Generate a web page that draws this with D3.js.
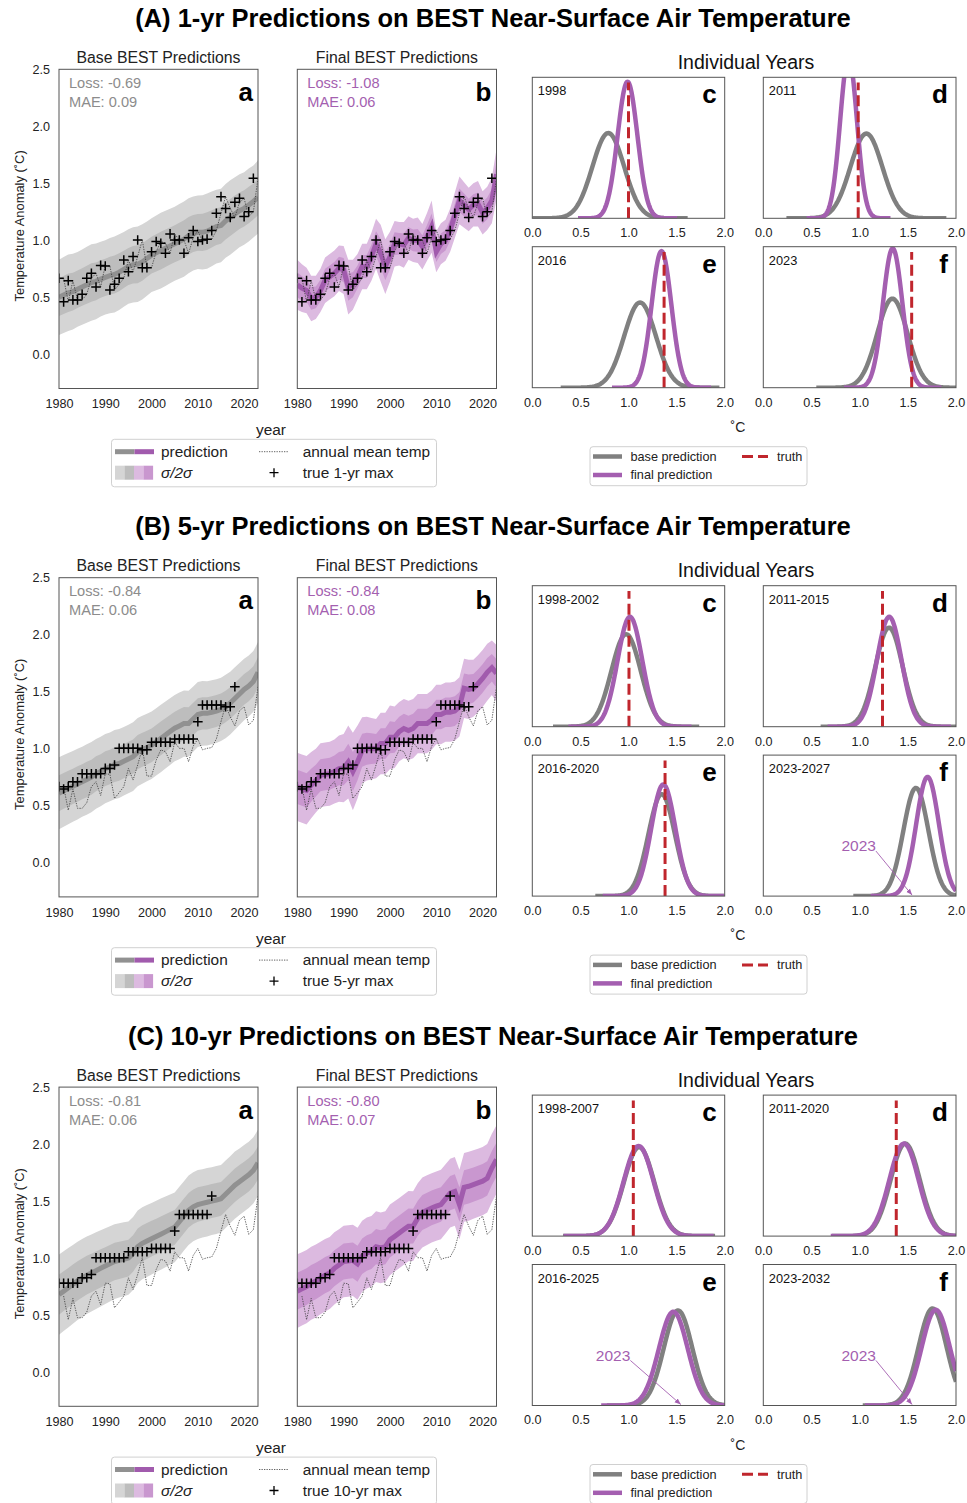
<!DOCTYPE html>
<html>
<head>
<meta charset="utf-8">
<script src="https://cdn.jsdelivr.net/npm/d3@7"></script>
<style>
  body { margin: 0; background: #fff; }
  text { font-family: "Liberation Sans", Arial, Helvetica, sans-serif; }
</style>
</head>
<body>
<div id="chart"></div>
<script>
// --- Data ---
// prediction bands are drawn at these positions
const predYears = d3.range(1980, 2024);
// annual mean temp (dotted line), by year
const obsYears = d3.range(1981, 2024);
const annualMean = [0.667, 0.46, 0.646, 0.477, 0.477, 0.526, 0.667, 0.71, 0.59, 0.78,
  0.775, 0.564, 0.614, 0.667, 0.827, 0.725, 0.857, 1.003, 0.76, 0.76,
  0.90, 0.99, 0.974, 0.886, 1.056, 1.003, 1.003, 0.886, 1.023, 1.085,
  0.99, 1.003, 1.01, 1.085, 1.237, 1.383, 1.28, 1.20, 1.333, 1.368,
  1.208, 1.25, 1.544];

// true n-yr max markers (drawn one year left of the window start, as in the source)
const max1Years = d3.range(1980, 2023);
const max1 = [0.667, 0.46, 0.646, 0.477, 0.477, 0.526, 0.667, 0.71, 0.59, 0.78,
  0.775, 0.564, 0.614, 0.667, 0.827, 0.725, 0.857, 1.003, 0.76, 0.76,
  0.90, 0.99, 0.974, 0.886, 1.056, 1.003, 1.003, 0.886, 1.023, 1.085,
  0.99, 1.003, 1.01, 1.085, 1.237, 1.383, 1.28, 1.20, 1.333, 1.368,
  1.208, 1.25, 1.544];
const max5Years = d3.range(1980, 2019);
const max5 = [0.667, 0.646, 0.667, 0.71, 0.71, 0.78, 0.78, 0.78, 0.78, 0.78,
  0.827, 0.827, 0.857, 1.003, 1.003, 1.003, 1.003, 1.003, 0.99, 0.99,
  1.056, 1.056, 1.056, 1.056, 1.056, 1.085, 1.085, 1.085, 1.085, 1.085,
  1.237, 1.383, 1.383, 1.383, 1.383, 1.383, 1.368, 1.368, 1.544];
const max10Years = d3.range(1980, 2014);
const max10 = [0.78, 0.78, 0.78, 0.78, 0.78, 0.827, 0.827, 0.857, 1.003, 1.003,
  1.003, 1.003, 1.003, 1.003, 1.003, 1.056, 1.056, 1.056, 1.056, 1.056,
  1.085, 1.085, 1.085, 1.085, 1.085, 1.237, 1.383, 1.383, 1.383, 1.383,
  1.383, 1.383, 1.383, 1.544];

// 1-yr predictions
const baseMean1 = [0.50, 0.52, 0.54, 0.55, 0.57, 0.59, 0.61, 0.63, 0.64, 0.66,
  0.675, 0.69, 0.70, 0.72, 0.745, 0.77, 0.785, 0.79, 0.81, 0.84,
  0.87, 0.89, 0.91, 0.93, 0.95, 0.97, 0.99, 1.01, 1.04, 1.06,
  1.07, 1.07, 1.08, 1.10, 1.12, 1.13, 1.17, 1.20, 1.23, 1.26,
  1.28, 1.31, 1.34, 1.38];
const baseSd1 = [0.165, 0.167, 0.168, 0.166, 0.164, 0.165, 0.167, 0.168, 0.166, 0.164,
  0.163, 0.165, 0.167, 0.166, 0.164, 0.163, 0.165, 0.166, 0.165, 0.163,
  0.162, 0.164, 0.166, 0.165, 0.163, 0.162, 0.164, 0.165, 0.164, 0.162,
  0.161, 0.163, 0.165, 0.164, 0.162, 0.161, 0.162, 0.163, 0.162, 0.160,
  0.159, 0.160, 0.158, 0.160];
const finalMean1 = [0.61, 0.58, 0.56, 0.49, 0.50, 0.56, 0.65, 0.68, 0.71, 0.755,
  0.74, 0.59, 0.61, 0.68, 0.77, 0.77, 0.856, 0.97, 0.886, 0.77,
  0.856, 0.97, 0.97, 0.96, 1.02, 1.00, 1.00, 0.944, 1.03, 1.12,
  0.90, 0.97, 1.00, 1.09, 1.22, 1.35, 1.31, 1.27, 1.31, 1.32,
  1.24, 1.28, 1.35, 1.58];
const finalSd1 = [0.11, 0.105, 0.10, 0.10, 0.095, 0.095, 0.10, 0.10, 0.10, 0.10,
  0.105, 0.12, 0.11, 0.10, 0.10, 0.10, 0.105, 0.11, 0.125, 0.12,
  0.11, 0.10, 0.095, 0.10, 0.095, 0.095, 0.10, 0.10, 0.105, 0.115,
  0.09, 0.09, 0.09, 0.095, 0.10, 0.105, 0.10, 0.095, 0.095, 0.10,
  0.095, 0.095, 0.10, 0.11];

// 5-yr predictions
const baseMean5 = [0.61, 0.63, 0.65, 0.67, 0.69, 0.71, 0.73, 0.75, 0.78, 0.80,
  0.825, 0.84, 0.86, 0.87, 0.89, 0.91, 0.93, 0.97, 0.99, 1.01,
  1.03, 1.06, 1.09, 1.12, 1.15, 1.18, 1.20, 1.22, 1.22, 1.26,
  1.30, 1.31, 1.31, 1.32, 1.33, 1.345, 1.37, 1.40, 1.44, 1.48,
  1.52, 1.55, 1.59, 1.67];
const baseSd5 = [0.158, 0.157, 0.156, 0.155, 0.155, 0.154, 0.155, 0.154, 0.153, 0.152,
  0.152, 0.151, 0.152, 0.151, 0.150, 0.150, 0.151, 0.150, 0.149, 0.148,
  0.148, 0.147, 0.148, 0.147, 0.146, 0.145, 0.146, 0.145, 0.144, 0.143,
  0.142, 0.142, 0.141, 0.140, 0.140, 0.139, 0.139, 0.138, 0.137, 0.136,
  0.135, 0.134, 0.133, 0.133];
const finalMean5 = [0.665, 0.65, 0.635, 0.68, 0.72, 0.767, 0.775, 0.78, 0.80, 0.825,
  0.83, 0.884, 0.80, 0.884, 0.986, 1.00, 1.00, 1.00, 1.045, 1.045,
  1.10, 1.10, 1.15, 1.177, 1.16, 1.177, 1.22, 1.22, 1.22, 1.25,
  1.30, 1.30, 1.32, 1.32, 1.33, 1.367, 1.53, 1.52, 1.53, 1.57,
  1.616, 1.67, 1.71, 1.66];
const finalSd5 = [0.15, 0.15, 0.15, 0.145, 0.14, 0.14, 0.14, 0.14, 0.14, 0.145,
  0.15, 0.16, 0.17, 0.16, 0.145, 0.14, 0.135, 0.13, 0.135, 0.135,
  0.14, 0.135, 0.13, 0.13, 0.13, 0.13, 0.13, 0.13, 0.13, 0.13,
  0.13, 0.13, 0.13, 0.13, 0.13, 0.13, 0.13, 0.13, 0.125, 0.125,
  0.125, 0.125, 0.12, 0.125];

// 10-yr predictions
const baseMean10 = [0.68, 0.71, 0.74, 0.77, 0.80, 0.825, 0.85, 0.87, 0.89, 0.91,
  0.93, 0.95, 0.97, 0.98, 0.99, 1.00, 1.04, 1.10, 1.13, 1.15,
  1.17, 1.19, 1.21, 1.23, 1.25, 1.27, 1.32, 1.37, 1.42, 1.45,
  1.47, 1.48, 1.49, 1.50, 1.51, 1.52, 1.56, 1.60, 1.64, 1.67,
  1.70, 1.73, 1.77, 1.835];
const baseSd10 = [0.176, 0.175, 0.174, 0.173, 0.172, 0.171, 0.170, 0.169, 0.168, 0.167,
  0.166, 0.165, 0.164, 0.163, 0.162, 0.161, 0.160, 0.159, 0.158, 0.158,
  0.157, 0.156, 0.156, 0.155, 0.154, 0.153, 0.153, 0.152, 0.152, 0.151,
  0.151, 0.150, 0.150, 0.149, 0.149, 0.148, 0.148, 0.147, 0.147, 0.146,
  0.146, 0.145, 0.145, 0.145];
const finalMean10 = [0.71, 0.73, 0.75, 0.78, 0.80, 0.825, 0.85, 0.87, 0.91, 0.94,
  0.97, 0.975, 0.98, 0.95, 1.016, 1.045, 1.06, 1.10, 1.09, 1.10,
  1.16, 1.19, 1.22, 1.25, 1.28, 1.28, 1.35, 1.40, 1.42, 1.44,
  1.456, 1.47, 1.52, 1.57, 1.585, 1.47, 1.62, 1.63, 1.645, 1.66,
  1.675, 1.70, 1.79, 1.865];
const finalSd10 = [0.162, 0.161, 0.161, 0.160, 0.160, 0.159, 0.159, 0.158, 0.158, 0.157,
  0.157, 0.157, 0.156, 0.158, 0.156, 0.156, 0.155, 0.155, 0.155, 0.155,
  0.155, 0.154, 0.154, 0.154, 0.154, 0.153, 0.153, 0.153, 0.153, 0.152,
  0.152, 0.152, 0.152, 0.151, 0.151, 0.152, 0.151, 0.151, 0.150, 0.150,
  0.150, 0.150, 0.150, 0.150];

// Loss / MAE text for [base, final]
const loss1 = ["-0.69", "-1.08"], mae1 = ["0.09", "0.06"];
const loss5 = ["-0.84", "-0.84"], mae5 = ["0.06", "0.08"];
const loss10 = ["-0.81", "-0.80"], mae10 = ["0.06", "0.07"];

// individual-year densities (panels c, d, e, f)
const densLabels1 = ["1998", "2011", "2016", "2023"];
const densBaseMean1 = [0.79, 1.07, 1.12, 1.34];
const densBaseSd1 = [0.165, 0.166, 0.165, 0.158];
const densFinalMean1 = [0.99, 0.885, 1.343, 1.343];
const densFinalSd1 = [0.103, 0.087, 0.103, 0.101];
const densTruth1 = [1.0, 0.985, 1.37, 1.54];
const densAnnoX1 = [null, null, null, null];

const densLabels5 = ["1998-2002", "2011-2015", "2016-2020", "2023-2027"];
const densBaseMean5 = [0.975, 1.305, 1.345, 1.584];
const densBaseSd5 = [0.152, 0.142, 0.138, 0.13];
const densFinalMean5 = [1.015, 1.307, 1.362, 1.705];
const densFinalSd5 = [0.128, 0.128, 0.126, 0.118];
const densTruth5 = [1.005, 1.237, 1.38, null];
const densAnnoX5 = [null, null, null, 0.99];

const densLabels10 = ["1998-2007", "2011-2020", "2016-2025", "2023-2032"];
const densBaseMean10 = [1.11, 1.473, 1.515, 1.757];
const densBaseSd10 = [0.158, 0.152, 0.148, 0.145];
const densFinalMean10 = [1.105, 1.46, 1.466, 1.79];
const densFinalSd10 = [0.156, 0.152, 0.15, 0.147];
const densTruth10 = [1.05, 1.38, null, null];
const densAnnoX10 = [null, null, 0.84, 0.99];

const sectionTitles = [
  "(A) 1-yr Predictions on BEST Near-Surface Air Temperature",
  "(B) 5-yr Predictions on BEST Near-Surface Air Temperature",
  "(C) 10-yr Predictions on BEST Near-Surface Air Temperature"
];
const crossLabels = ["true 1-yr max", "true 5-yr max", "true 10-yr max"];

// --- Styles ---
const FONT = '"Liberation Sans", Arial, Helvetica, sans-serif';
const GREY = { out: "#d5d5d5", in: "#bdbdbd", line: "#919191", dens: "#808080", text: "#8c8c8c" };
const PURPLE = { out: "#dcbae0", in: "#c997cf", line: "#a15bad", dens: "#a45fb0", text: "#a45fb0" };
const RED = "#c0262d";
const FRAME = "#555";
const TICK_FS = 12.6;

// --- Setup ---
const svg = d3.select("#chart").append("svg")
  .attr("width", 967).attr("height", 1503)
  .style("font-family", FONT);

const sections = [
  { off: 0, title: sectionTitles[0], crossYears: max1Years, crosses: max1, crossLabel: crossLabels[0],
    base: { mean: baseMean1, sd: baseSd1, loss: loss1[0], mae: mae1[0] },
    final: { mean: finalMean1, sd: finalSd1, loss: loss1[1], mae: mae1[1] },
    dens: { labels: densLabels1, bm: densBaseMean1, bs: densBaseSd1, fm: densFinalMean1, fs: densFinalSd1, truth: densTruth1, anno: densAnnoX1 } },
  { off: 508.4, title: sectionTitles[1], crossYears: max5Years, crosses: max5, crossLabel: crossLabels[1],
    base: { mean: baseMean5, sd: baseSd5, loss: loss5[0], mae: mae5[0] },
    final: { mean: finalMean5, sd: finalSd5, loss: loss5[1], mae: mae5[1] },
    dens: { labels: densLabels5, bm: densBaseMean5, bs: densBaseSd5, fm: densFinalMean5, fs: densFinalSd5, truth: densTruth5, anno: densAnnoX5 } },
  { off: 1017.8, title: sectionTitles[2], crossYears: max10Years, crosses: max10, crossLabel: crossLabels[2],
    base: { mean: baseMean10, sd: baseSd10, loss: loss10[0], mae: mae10[0] },
    final: { mean: finalMean10, sd: finalSd10, loss: loss10[1], mae: mae10[1] },
    dens: { labels: densLabels10, bm: densBaseMean10, bs: densBaseSd10, fm: densFinalMean10, fs: densFinalSd10, truth: densTruth10, anno: densAnnoX10 } }
];

let clipId = 0;
function addClip(x, y, w, h) {
  const id = "clip" + (clipId++);
  svg.append("clipPath").attr("id", id).append("rect")
    .attr("x", x).attr("y", y).attr("width", w).attr("height", h);
  return "url(#" + id + ")";
}

// arrowhead marker for the 2023 annotations
svg.append("defs").append("marker")
  .attr("id", "arrow").attr("viewBox", "0 0 10 10").attr("refX", 10).attr("refY", 5)
  .attr("markerWidth", 7).attr("markerHeight", 7).attr("orient", "auto")
  .append("path").attr("d", "M0,1 L10,5 L0,9 Z").attr("fill", PURPLE.text);

// --- Time-series panel (a / b) ---
function drawTimePanel(sec, pred, col, left, right, letter, subtitle, showY) {
  const top = 69.3 + sec.off, bottom = 388.5 + sec.off;
  const x = d3.scaleLinear().domain([1980, 2023]).range([left, right]);
  const y = d3.scaleLinear().domain([-0.3, 2.5]).range([bottom, top]);
  const g = svg.append("g");
  const clip = addClip(left, top, right - left, bottom - top);
  const pg = g.append("g").attr("clip-path", clip);

  const rows = predYears.map((yr, i) => ({ yr, m: pred.mean[i], s: pred.sd[i] }));
  const band = k => d3.area().x(d => x(d.yr)).y0(d => y(d.m - k * d.s)).y1(d => y(d.m + k * d.s));
  pg.append("path").datum(rows).attr("d", band(2)).attr("fill", col.out);
  pg.append("path").datum(rows).attr("d", band(1)).attr("fill", col.in);
  pg.append("path").datum(rows)
    .attr("d", d3.line().x(d => x(d.yr)).y(d => y(d.m)))
    .attr("fill", "none").attr("stroke", col.line).attr("stroke-width", 5);

  // annual mean temp, dotted
  pg.append("path").datum(obsYears.map((yr, i) => [yr, annualMean[i]]))
    .attr("d", d3.line().x(d => x(d[0])).y(d => y(d[1])))
    .attr("fill", "none").attr("stroke", "#3a3a3a").attr("stroke-width", 0.8)
    .attr("stroke-dasharray", "1.3,1.2");

  // true n-yr max markers
  pg.append("g").selectAll("path").data(sec.crossYears.map((yr, i) => [yr, sec.crosses[i]]))
    .join("path")
    .attr("d", d => { const cx = x(d[0]), cy = y(d[1]); return `M${cx - 4.8},${cy}H${cx + 4.8}M${cx},${cy - 4.8}V${cy + 4.8}`; })
    .attr("stroke", "#000").attr("stroke-width", 1.5).attr("fill", "none");

  // axes (no tick marks)
  const xa = g.append("g").attr("transform", `translate(0,${bottom})`)
    .call(d3.axisBottom(x).tickValues([1980, 1990, 2000, 2010, 2020]).tickFormat(d3.format("d")).tickSize(0).tickPadding(11));
  xa.select(".domain").remove();
  xa.selectAll("text").attr("font-size", TICK_FS).attr("fill", "#222").style("font-family", FONT);
  if (showY) {
    const ya = g.append("g").attr("transform", `translate(${left},0)`)
      .call(d3.axisLeft(y).tickValues([0, 0.5, 1, 1.5, 2, 2.5]).tickFormat(d3.format(".1f")).tickSize(0).tickPadding(9));
    ya.select(".domain").remove();
    ya.selectAll("text").attr("font-size", TICK_FS).attr("fill", "#222").style("font-family", FONT);
    g.append("text").attr("transform", `translate(19,${(top + bottom) / 2 - 3}) rotate(-90)`)
      .attr("text-anchor", "middle").attr("dy", "0.35em").attr("font-size", 12.9).attr("fill", "#222")
      .text("Temperature Anomaly (˚C)");
  }

  g.append("rect").attr("x", left).attr("y", top).attr("width", right - left).attr("height", bottom - top)
    .attr("fill", "none").attr("stroke", FRAME).attr("stroke-width", 1);

  g.append("text").attr("x", (left + right) / 2).attr("y", top - 12).attr("dy", "0.35em")
    .attr("text-anchor", "middle").attr("font-size", 15.8).attr("fill", "#222").text(subtitle);
  g.append("text").attr("x", left + 10).attr("y", top + 13.5).attr("dy", "0.35em")
    .attr("font-size", 14.6).attr("fill", col.text).text("Loss: " + pred.loss);
  g.append("text").attr("x", left + 10).attr("y", top + 32.5).attr("dy", "0.35em")
    .attr("font-size", 14.6).attr("fill", col.text).text("MAE: " + pred.mae);
  g.append("text").attr("x", right - 5).attr("y", top + 22.5).attr("dy", "0.35em")
    .attr("text-anchor", "end").attr("font-size", 26).attr("font-weight", "bold").attr("fill", "#000").text(letter);
}

// --- Density panel (c..f) ---
function gauss(v, m, s) { return Math.exp(-0.5 * ((v - m) / s) ** 2) / (s * Math.sqrt(2 * Math.PI)); }

function drawDensPanel(sec, k, left, right, top, bottom, letter) {
  const D = sec.dens;
  const x = d3.scaleLinear().domain([0, 2]).range([left, right]);
  const y = d3.scaleLinear().domain([0, 4]).range([bottom, top]);
  const g = svg.append("g");
  const pg = g.append("g").attr("clip-path", addClip(left, top, right - left, bottom - top));
  const curve = (m, s) => {
    const lo = Math.max(0, m - 5 * s), hi = Math.min(2, m + 5 * s);
    return d3.range(201).map(i => { const v = lo + (hi - lo) * i / 200; return [v, gauss(v, m, s)]; });
  };
  const line = d3.line().x(d => x(d[0])).y(d => y(d[1]));
  pg.append("path").datum(curve(D.bm[k], D.bs[k])).attr("d", line)
    .attr("fill", "none").attr("stroke", GREY.dens).attr("stroke-width", 4.5);
  pg.append("path").datum(curve(D.fm[k], D.fs[k])).attr("d", line)
    .attr("fill", "none").attr("stroke", PURPLE.dens).attr("stroke-width", 4.5);
  if (D.truth[k] != null) {
    pg.append("line").attr("x1", x(D.truth[k])).attr("x2", x(D.truth[k]))
      .attr("y1", y(0)).attr("y2", y(3.85))
      .attr("stroke", RED).attr("stroke-width", 3).attr("stroke-dasharray", "11,5");
  }
  if (D.anno[k] != null) {
    const tx = x(D.anno[k]), ty = y(1.42);
    const t = g.append("text").attr("x", tx).attr("y", ty).attr("dy", "0.35em").attr("text-anchor", "middle")
      .attr("font-size", 15.5).attr("fill", PURPLE.text).text("2023");
    const w = t.node().getComputedTextLength();
    g.append("line").attr("x1", tx + w / 2).attr("y1", ty + 5)
      .attr("x2", x(annualMean[annualMean.length - 1])).attr("y2", y(0) - 1)
      .attr("stroke", PURPLE.text).attr("stroke-width", 0.9).attr("marker-end", "url(#arrow)");
  }
  const xa = g.append("g").attr("transform", `translate(0,${bottom})`)
    .call(d3.axisBottom(x).tickValues([0, 0.5, 1, 1.5, 2]).tickFormat(d3.format(".1f")).tickSize(0).tickPadding(10));
  xa.select(".domain").remove();
  xa.selectAll("text").attr("font-size", TICK_FS).attr("fill", "#222").style("font-family", FONT);
  g.append("rect").attr("x", left).attr("y", top).attr("width", right - left).attr("height", bottom - top)
    .attr("fill", "none").attr("stroke", FRAME).attr("stroke-width", 1);
  g.append("text").attr("x", left + 5.5).attr("y", top + 13.7).attr("dy", "0.35em")
    .attr("font-size", 12.8).attr("fill", "#111").text(D.labels[k]);
  g.append("text").attr("x", right - 8).attr("y", top + 17).attr("dy", "0.35em")
    .attr("text-anchor", "end").attr("font-size", 26).attr("font-weight", "bold").attr("fill", "#000").text(letter);
}

// --- Legends ---
function drawLegendLeft(sec) {
  const o = sec.off;
  const g = svg.append("g");
  g.append("text").attr("x", 271).attr("y", 430 + o).attr("dy", "0.35em").attr("text-anchor", "middle")
    .attr("font-size", 15.4).attr("fill", "#222").text("year");
  g.append("rect").attr("x", 111.5).attr("y", 439.3 + o).attr("width", 325).attr("height", 47.5)
    .attr("rx", 3).attr("fill", "#fff").attr("stroke", "#d0d0d0");
  const r1 = 451.7 + o, r2 = 472.7 + o;
  g.append("line").attr("x1", 115).attr("x2", 134.5).attr("y1", r1).attr("y2", r1).attr("stroke", GREY.line).attr("stroke-width", 5);
  g.append("line").attr("x1", 134.5).attr("x2", 154).attr("y1", r1).attr("y2", r1).attr("stroke", PURPLE.line).attr("stroke-width", 5);
  [GREY.out, GREY.in, PURPLE.out, PURPLE.in].forEach((c, i) => {
    g.append("rect").attr("x", 115 + i * 9.5).attr("y", r2 - 7).attr("width", 9.6).attr("height", 14).attr("fill", c);
  });
  g.append("text").attr("x", 161).attr("y", r1).attr("dy", "0.35em").attr("font-size", 15.4).attr("fill", "#222").text("prediction");
  g.append("text").attr("x", 161).attr("y", r2).attr("dy", "0.35em").attr("font-size", 15.4).attr("fill", "#222")
    .attr("font-style", "italic").text("σ/2σ");
  g.append("line").attr("x1", 259).attr("x2", 289).attr("y1", r1).attr("y2", r1)
    .attr("stroke", "#3a3a3a").attr("stroke-width", 0.8).attr("stroke-dasharray", "1.3,1.2");
  g.append("path").attr("d", `M${274 - 4.5},${r2}H${274 + 4.5}M274,${r2 - 4.5}V${r2 + 4.5}`)
    .attr("stroke", "#000").attr("stroke-width", 1.3);
  g.append("text").attr("x", 302.7).attr("y", r1).attr("dy", "0.35em").attr("font-size", 15.4).attr("fill", "#222").text("annual mean temp");
  g.append("text").attr("x", 302.7).attr("y", r2).attr("dy", "0.35em").attr("font-size", 15.4).attr("fill", "#222").text(sec.crossLabel);
}

function drawLegendRight(sec) {
  const o = sec.off;
  const g = svg.append("g");
  g.append("text").attr("x", 738).attr("y", 427 + o).attr("dy", "0.35em").attr("text-anchor", "middle")
    .attr("font-size", 14).attr("fill", "#222").text("˚C");
  g.append("rect").attr("x", 590).attr("y", 446.7 + o).attr("width", 217).attr("height", 39)
    .attr("rx", 3).attr("fill", "#fff").attr("stroke", "#d0d0d0");
  const r1 = 456.5 + o, r2 = 475 + o;
  g.append("line").attr("x1", 593).attr("x2", 622).attr("y1", r1).attr("y2", r1).attr("stroke", GREY.dens).attr("stroke-width", 4.5);
  g.append("line").attr("x1", 593).attr("x2", 622).attr("y1", r2).attr("y2", r2).attr("stroke", PURPLE.dens).attr("stroke-width", 4.5);
  g.append("line").attr("x1", 742).attr("x2", 768).attr("y1", r1).attr("y2", r1)
    .attr("stroke", RED).attr("stroke-width", 3).attr("stroke-dasharray", "11,5");
  g.append("text").attr("x", 630.5).attr("y", r1).attr("dy", "0.35em").attr("font-size", 12.7).attr("fill", "#222").text("base prediction");
  g.append("text").attr("x", 630.5).attr("y", r2).attr("dy", "0.35em").attr("font-size", 12.7).attr("fill", "#222").text("final prediction");
  g.append("text").attr("x", 777).attr("y", r1).attr("dy", "0.35em").attr("font-size", 12.7).attr("fill", "#222").text("truth");
}

// --- Draw ---
sections.forEach(sec => {
  const o = sec.off;
  svg.append("text").attr("x", 493).attr("y", 18 + o).attr("dy", "0.35em").attr("text-anchor", "middle")
    .attr("font-size", 25.5).attr("font-weight", "bold").attr("fill", "#000").text(sec.title);

  drawTimePanel(sec, sec.base, GREY, 59, 258, "a", "Base BEST Predictions", true);
  drawTimePanel(sec, sec.final, PURPLE, 297.3, 496.5, "b", "Final BEST Predictions", false);

  svg.append("text").attr("x", 746).attr("y", 62 + o).attr("dy", "0.35em").attr("text-anchor", "middle")
    .attr("font-size", 19.5).attr("fill", "#111").text("Individual Years");

  const cols = [[532.3, 724.7], [763.3, 956]];
  const rowsY = [[77.3, 218.3], [246.7, 387.7]];
  ["c", "d", "e", "f"].forEach((L, k) => {
    const cx = cols[k % 2], ry = rowsY[Math.floor(k / 2)];
    drawDensPanel(sec, k, cx[0], cx[1], ry[0] + o, ry[1] + o, L);
  });

  drawLegendLeft(sec);
  drawLegendRight(sec);
});
</script>
</body>
</html>
